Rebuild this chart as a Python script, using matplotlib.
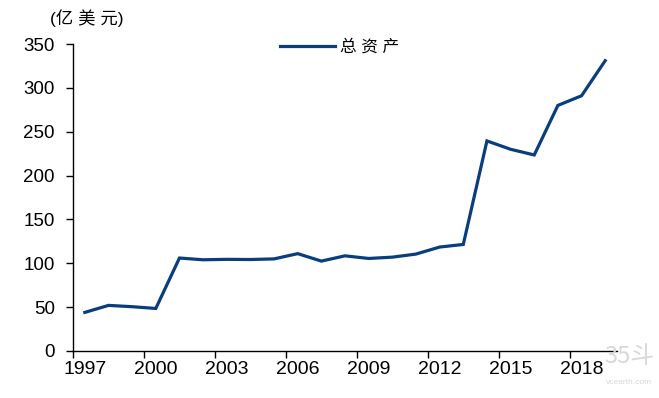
import numpy as np
import matplotlib.pyplot as plt
from matplotlib.ticker import FixedLocator, NullFormatter

plt.rcParams['font.family'] = ['Liberation Sans', 'Noto Sans CJK SC', 'DejaVu Sans']

# data
years = list(range(1997, 2020))
total_assets = [44, 52, 50.5, 48.5, 106, 104, 104.5, 104.3, 105, 111, 102.5,
                108.5, 105.5, 107, 110.5, 118.5, 121.5, 239.5, 230, 223.5,
                280, 291, 331]
label_years = [1997, 2000, 2003, 2006, 2009, 2012, 2015, 2018]
series_name = '总 资 产'
unit = '(亿 美 元)'

fig = plt.figure(figsize=(6.59, 3.98), dpi=100)
ax = fig.add_axes([0.1108, 0.1181, 0.8255, 0.7713])

ax.plot(years, total_assets, color='#0a3d7d', lw=2.3, label=series_name,
        solid_joinstyle='miter')

ax.set_xlim(1996.5, 2019.5)
ax.set_ylim(0, 350)
ax.set_yticks(np.arange(0, 351, 50))

# ticks sit between categories, labels at category centres
ax.xaxis.set_major_locator(FixedLocator([y - 0.5 for y in label_years]))
ax.xaxis.set_major_formatter(NullFormatter())
ax.xaxis.set_minor_locator(FixedLocator(label_years))
ax.set_xticklabels([str(y) for y in label_years], minor=True)
ax.tick_params(axis='x', which='major', length=5, width=1, direction='out')
ax.tick_params(axis='x', which='minor', length=0, pad=7, labelsize=14)
ax.tick_params(axis='y', length=5, width=1, direction='out', pad=8, labelsize=13.5)

for s in ['top', 'right']:
    ax.spines[s].set_visible(False)
for s in ['left', 'bottom']:
    ax.spines[s].set_linewidth(1)

ax.legend(loc='center left', bbox_to_anchor=(280 / 659, 1 - 47 / 398),
          bbox_transform=fig.transFigure, frameon=False,
          borderpad=0, borderaxespad=0,
          handlelength=3.3, handletextpad=0.3,
          prop={'family': ['Liberation Sans', 'Noto Sans CJK SC'], 'size': 12})

fig.text(0.076, 0.955, unit, ha='left', va='center',
         family=['Liberation Sans', 'Noto Sans CJK SC'], fontsize=12.5)

# faint watermark
fig.text(0.955, 0.105, '35斗', ha='center', va='center', color='#d8d8d8',
         family=['Noto Sans CJK SC'], fontsize=17)
fig.text(0.955, 0.04, 'vcearth.com', ha='center', va='center', color='#d8d8d8',
         fontsize=6)

fig.savefig('out.png', dpi=100)
